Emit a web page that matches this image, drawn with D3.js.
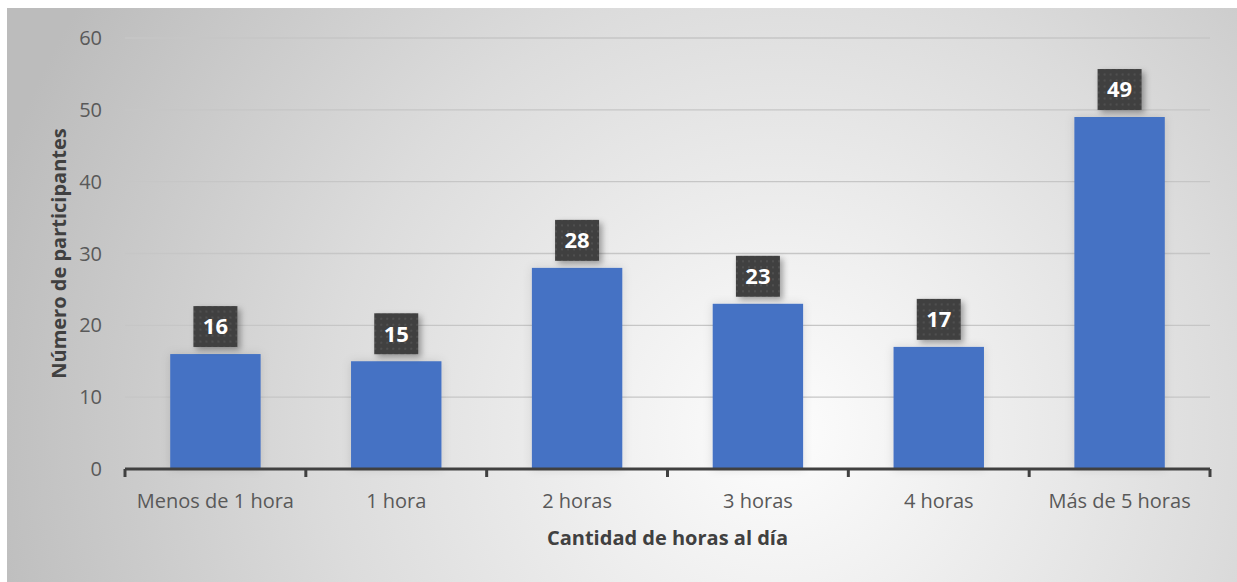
<!DOCTYPE html>
<html>
<head>
<meta charset="utf-8">
<script src="https://cdn.jsdelivr.net/npm/d3@7"></script>
<style>
body { margin: 0; background: #fff; }
text { font-family: "Open Sans", "Noto Sans", sans-serif; }
.tick-label { fill: #595959; font-size: 20px; }
.title { fill: #404040; font-size: 20px; font-weight: bold; }
.grid { stroke: #c6c6c6; stroke-width: 1.3; }
.bar { fill: #4472c4; }
.lbl { fill: #fff; font-size: 22px; font-weight: bold; }
</style>
</head>
<body>
<script>
// data
var categories = ["Menos de 1 hora", "1 hora", "2 horas", "3 horas", "4 horas", "Más de 5 horas"];
var values = [16, 15, 28, 23, 17, 49];
var yTicks = [0, 10, 20, 30, 40, 50, 60];

var W = 1237, H = 582;
var margin = {top: 38, right: 27, bottom: 113, left: 125};
var width = W - margin.left - margin.right,
    height = H - margin.top - margin.bottom;

var svg = d3.select("body").append("svg")
    .attr("width", W).attr("height", H);

var defs = svg.append("defs");

var grad = defs.append("radialGradient")
    .attr("id", "bg")
    .attr("gradientUnits", "userSpaceOnUse")
    .attr("cx", 780).attr("cy", 430).attr("r", 820);
grad.append("stop").attr("offset", 0).attr("stop-color", "#fdfdfd");
grad.append("stop").attr("offset", 0.55).attr("stop-color", "#dcdcdc");
grad.append("stop").attr("offset", 1).attr("stop-color", "#bcbcbc");

var pat = defs.append("pattern")
    .attr("id", "dots")
    .attr("patternUnits", "userSpaceOnUse")
    .attr("width", 6).attr("height", 6);
pat.append("rect").attr("width", 6).attr("height", 6).attr("fill", "#404040");
pat.append("rect").attr("x", 2).attr("y", 2).attr("width", 2).attr("height", 2).attr("fill", "#505050");

var sh = defs.append("filter").attr("id", "shadow")
    .attr("x", "-30%").attr("y", "-30%").attr("width", "170%").attr("height", "170%");
sh.append("feDropShadow").attr("dx", 3).attr("dy", 3).attr("stdDeviation", 3)
    .attr("flood-color", "#000").attr("flood-opacity", 0.35);

var barSh = defs.append("filter").attr("id", "barshadow")
    .attr("x", "-30%").attr("y", "-10%").attr("width", "160%").attr("height", "120%");
barSh.append("feDropShadow").attr("dx", 0).attr("dy", 0).attr("stdDeviation", 5)
    .attr("flood-color", "#000").attr("flood-opacity", 0.12);

// background
svg.append("rect")
    .attr("x", 7).attr("y", 8)
    .attr("width", W - 7).attr("height", H - 8)
    .attr("fill", "url(#bg)");

var g = svg.append("g")
    .attr("transform", "translate(" + margin.left + "," + margin.top + ")");

var x = d3.scaleBand()
    .domain(categories)
    .range([0, width])
    .paddingInner(0.5)
    .paddingOuter(0.25);

var y = d3.scaleLinear()
    .domain([0, 60])
    .range([height, 0]);

// gridlines
g.selectAll(".grid")
    .data(yTicks.filter(function(d) { return d > 0; }))
  .enter().append("line")
    .attr("class", "grid")
    .attr("x1", 0).attr("x2", width)
    .attr("y1", function(d) { return y(d); })
    .attr("y2", function(d) { return y(d); });

// y tick labels
g.selectAll(".ylab")
    .data(yTicks)
  .enter().append("text")
    .attr("class", "tick-label")
    .attr("x", -23)
    .attr("y", function(d) { return y(d); })
    .attr("dy", "0.35em")
    .attr("text-anchor", "end")
    .text(function(d) { return d; });

// bars
g.selectAll(".bar")
    .data(values)
  .enter().append("rect")
    .attr("class", "bar")
    .attr("filter", "url(#barshadow)")
    .attr("x", function(d, i) { return x(categories[i]); })
    .attr("y", function(d) { return y(d); })
    .attr("width", x.bandwidth())
    .attr("height", function(d) { return height - y(d); });

// x axis
g.append("line")
    .attr("x1", 0).attr("x2", width)
    .attr("y1", height).attr("y2", height)
    .attr("stroke", "#404040").attr("stroke-width", 3);

var step = x.step();
g.selectAll(".xtick")
    .data(d3.range(categories.length + 1))
  .enter().append("line")
    .attr("x1", function(i) { return i * step; })
    .attr("x2", function(i) { return i * step; })
    .attr("y1", height).attr("y2", height + 8)
    .attr("stroke", "#404040").attr("stroke-width", 3);

g.selectAll(".xlab")
    .data(categories)
  .enter().append("text")
    .attr("class", "tick-label")
    .attr("x", function(d) { return x(d) + x.bandwidth() / 2; })
    .attr("y", height + 39)
    .attr("text-anchor", "middle")
    .text(function(d) { return d; });

// data labels
var bw = 44, bh = 41;
var lab = g.selectAll(".dl")
    .data(values)
  .enter().append("g")
    .attr("transform", function(d, i) {
        return "translate(" + (x(categories[i]) + x.bandwidth() / 2) + "," + (y(d) - 7 - bh / 2) + ")";
    });
lab.append("rect")
    .attr("x", -bw / 2).attr("y", -bh / 2)
    .attr("width", bw).attr("height", bh)
    .attr("fill", "url(#dots)")
    .attr("filter", "url(#shadow)");
lab.append("text")
    .attr("class", "lbl")
    .attr("text-anchor", "middle")
    .attr("dy", "0.36em")
    .text(function(d) { return d; });

// axis titles
g.append("text")
    .attr("class", "title")
    .attr("x", width / 2)
    .attr("y", height + 76)
    .attr("text-anchor", "middle")
    .text("Cantidad de horas al día");

g.append("text")
    .attr("class", "title")
    .attr("transform", "translate(" + (-59) + "," + (height / 2) + ") rotate(-90)")
    .attr("text-anchor", "middle")
    .text("Número de participantes");
</script>
</body>
</html>
